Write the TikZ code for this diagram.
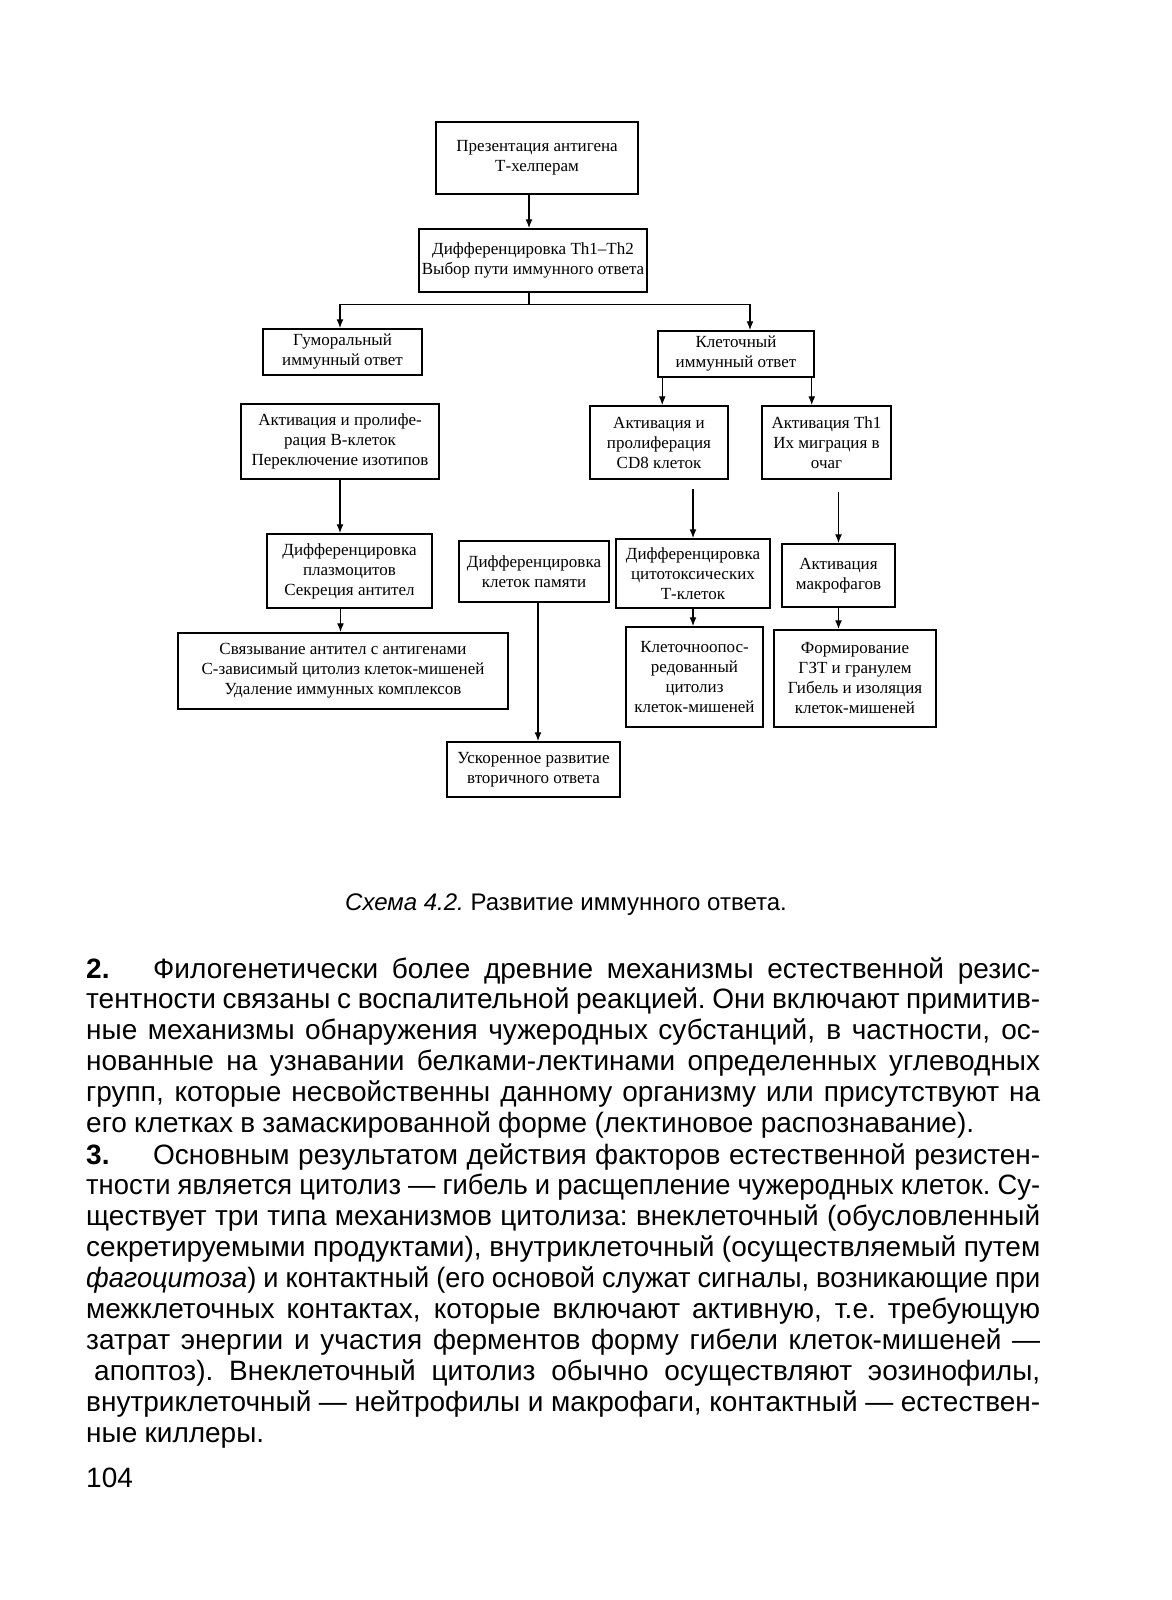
\documentclass[tikz,border=0pt]{standalone}
\usepackage{fontspec}
\setmainfont{Liberation Serif}
\newfontfamily\bodysans{Liberation Sans}
\newfontfamily\capsans{Liberation Sans}
\usetikzlibrary{arrows.meta}
\newsavebox{\linebox}
\newcommand{\wordgaps}{\spaceskip=0.26em plus 1em minus 0.1em\xspaceskip=\spaceskip}
\newcommand{\fullline}[1]{\leavevmode\sbox{\linebox}{\wordgaps #1}%
  \ifdim\wd\linebox>970pt \scalebox{\fpeval{954pt/(\the\wd\linebox)}}[1]{\hbox to \wd\linebox{\wordgaps #1}}%
  \else\hbox to 954pt{\wordgaps #1}\fi}
\tikzset{
  box/.style={draw, line width=1.5pt, inner sep=0pt, align=center,
    font=\fontsize{17}{20}\selectfont},
  arr/.style={line width=1.4pt, -{Latex[length=9pt,width=7pt]}},
  link/.style={line width=1.4pt},
  body/.style={anchor=base west, inner sep=0pt, text width=954pt, align=left,
    font=\bodysans\fontsize{28}{30.9}\selectfont}
}
\begin{document}
\begin{tikzpicture}[x=1pt, y=-1pt]
            \fill[white] (0,0) rectangle (1171,1600);
            \useasboundingbox (0,0) rectangle (1171,1600);
            \node[box, minimum width=202pt, minimum height=72pt] (b1) at (537,158)
                {Презентация антигена\\Т-хелперам};
            \node[box, minimum width=228pt, minimum height=63pt] (b2) at (533,260.5)
                {Дифференцировка Th1–Th2\\Выбор пути иммунного ответа};
            \node[box, minimum width=159pt, minimum height=46pt] (b3) at (342.5,352)
                {Гуморальный\\иммунный ответ};
            \node[box, minimum width=156pt, minimum height=46pt] (b4) at (736,354)
                {Клеточный\\иммунный ответ};
            \node[box, minimum width=198pt, minimum height=75pt] (b5) at (340,441.5)
                {Активация и пролифе-\\рация В-клеток\\Переключение изотипов};
            \node[box, minimum width=138pt, minimum height=73pt] (b6) at (659,442.5)
                {Активация и\\пролиферация\\CD8 клеток};
            \node[box, minimum width=129pt, minimum height=73pt] (b7) at (826.5,442.5)
                {Активация Th1\\Их миграция в\\очаг};
            \node[box, minimum width=165pt, minimum height=74pt] (b8) at (349.5,571)
                {Дифференцировка\\плазмоцитов\\Секреция антител};
            \node[box, minimum width=150pt, minimum height=61pt] (b9) at (534,571.5)
                {Дифференцировка\\клеток памяти};
            \node[box, minimum width=154pt, minimum height=69pt] (b10) at (693,573.5)
                {Дифференцировка\\цитотоксических\\Т-клеток};
            \node[box, minimum width=113pt, minimum height=63pt] (b11) at (838.5,575.5)
                {Активация\\макрофагов};
            \node[box, minimum width=330pt, minimum height=76pt] (b12) at (343,671)
                {Связывание антител с антигенами\\С-зависимый цитолиз клеток-мишеней\\Удаление иммунных комплексов};
            \node[box, minimum width=137pt, minimum height=100pt] (b13) at (694.5,677)
                {Клеточноопос-\\редованный\\цитолиз\\клеток-мишеней};
            \node[box, minimum width=162pt, minimum height=97pt] (b14) at (855,678.5)
                {Формирование\\ГЗТ и гранулем\\Гибель и изоляция\\клеток-мишеней};
            \node[box, minimum width=173pt, minimum height=55pt] (b15) at (533.5,769.5)
                {Ускоренное развитие\\вторичного ответа};
            \draw[arr] ([xshift=-8pt]b1.south) -- ([xshift=-8pt]b1.south |- b2.north);
            \draw[link] ([xshift=-4pt]b2.south) -- ++(0,12) coordinate (split);
            \draw[arr] (split) -| ([xshift=-2.5pt]b3.north);
            \draw[arr] (split) -| ([xshift=14pt]b4.north);
            \draw[arr] ([xshift=5pt]b4.south west) -- ([xshift=5pt]b4.south west |- b6.north);
            \draw[arr] ([xshift=-3pt]b4.south east) -- ([xshift=-3pt]b4.south east |- b7.north);
            \draw[arr] (b5.south) -- (b5.south |- b8.north);
            \draw[arr] ([yshift=-9pt]b10.north |- b6.south) -- (b10.north);
            \draw[arr] ([yshift=-12pt]b11.north |- b7.south) -- (b11.north);
            \draw[arr] ([xshift=-9pt]b8.south) -- ([xshift=-9pt]b8.south |- b12.north);
            \draw[arr] ([xshift=4pt]b9.south) -- ([xshift=4pt]b9.south |- b15.north);
            \draw[arr] (b10.south) -- (b10.south |- b13.north);
            \draw[arr] (b11.south) -- (b11.south |- b14.north);
            \node[anchor=base, inner sep=0pt, font=\capsans\fontsize{24}{28}\selectfont] (caption) at (566,910)
                {\textit{Схема 4.2.}\ Развитие иммунного ответа.};
            \node[body] (para2) at (86,978) {%
                \fullline{\makebox[67pt][l]{\textbf{2.}}Филогенетически более древние механизмы естественной резис-}\\
                \fullline{тентности связаны с воспалительной реакцией. Они включают примитив-}\\
                \fullline{ные механизмы обнаружения чужеродных субстанций, в частности, ос-}\\
                \fullline{нованные на узнавании белками-лектинами определенных углеводных}\\
                \fullline{групп, которые несвойственны данному организму или присутствуют на}\\
                {\wordgaps его клетках в замаскированной форме (лектиновое распознавание).}};
            \node[body] (para3) at (86,1164) {%
                \fullline{\makebox[67pt][l]{\textbf{3.}}Основным результатом действия факторов естественной резистен-}\\
                \fullline{тности является цитолиз — гибель и расщепление чужеродных клеток. Су-}\\
                \fullline{ществует три типа механизмов цитолиза: внеклеточный (обусловленный}\\
                \fullline{секретируемыми продуктами), внутриклеточный (осуществляемый путем}\\
                \fullline{\textit{фагоцитоза}) и контактный (его основой служат сигналы, возникающие при}\\
                \fullline{межклеточных контактах, которые включают активную, т.е. требующую}\\
                \fullline{затрат энергии и участия ферментов форму гибели клеток-мишеней —}\\
                \fullline{\hspace{8pt}апоптоз). Внеклеточный цитолиз обычно осуществляют эозинофилы,}\\
                \fullline{внутриклеточный — нейтрофилы и макрофаги, контактный — естествен-}\\
                {\wordgaps ные киллеры.}};
            \node[anchor=base west, inner sep=0pt, font=\bodysans\fontsize{28}{30}\selectfont] (pagenum) at (86,1487) {104};
        \end{tikzpicture}
\end{document}
